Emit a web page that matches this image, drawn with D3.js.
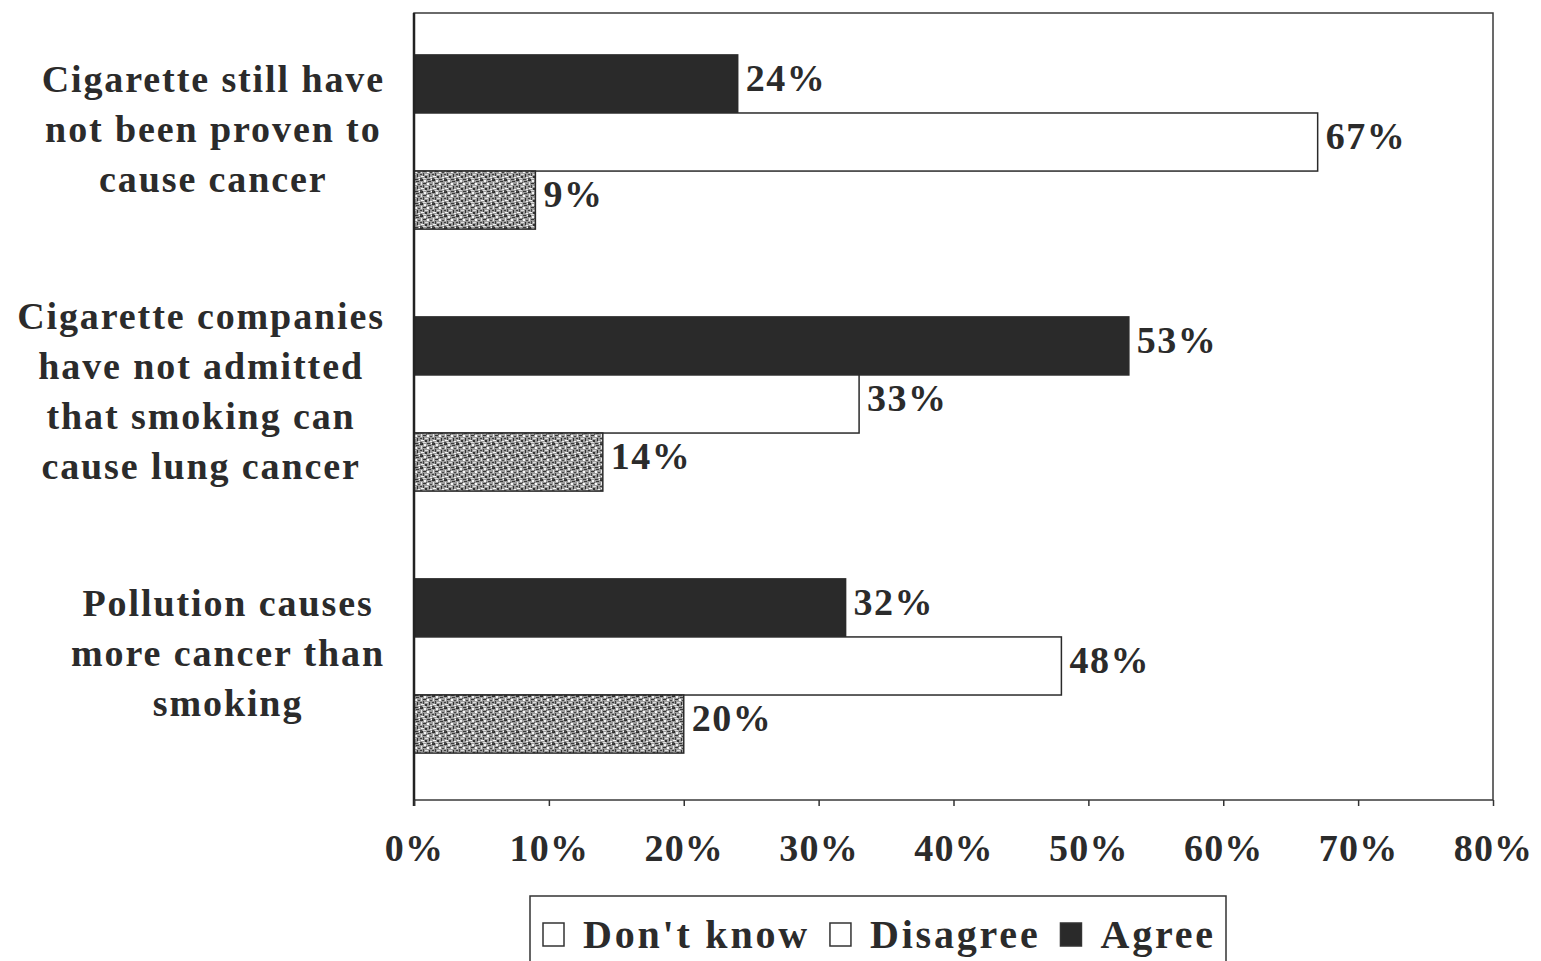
<!DOCTYPE html>
<html lang="en">
<head>
    <meta charset="UTF-8">
    <title>Smoking beliefs</title>
    <script src="https://d3js.org/d3.v7.min.js"></script>
    <style>
        body {
            margin: 0;
            padding: 0;
            background: #ffffff;
        }
        svg {
            display: block;
            font-family: 'Liberation Serif', 'DejaVu Serif', serif;
            font-weight: bold;
        }
        .cat-label {
            font-size: 38px;
            fill: #2b2b2b;
            text-anchor: middle;
            letter-spacing: 1.9px;
        }
        .value-label {
            font-size: 38px;
            fill: #2b2b2b;
            letter-spacing: 1.5px;
        }
        .tick text {
            font-size: 38px;
            fill: #2b2b2b;
            font-family: 'Liberation Serif', serif;
            font-weight: bold;
            letter-spacing: 1.2px;
        }
        .legend-text {
            font-size: 40px;
            fill: #2b2b2b;
            letter-spacing: 2.8px;
        }
    </style>
</head>
<body>
    <svg width="1541" height="961"></svg>

    <script>
        // categories (top to bottom), each split over lines
        const categories = [
            ["Cigarette still have", "not been proven to", "cause cancer"],
            ["Cigarette companies", "have not admitted", "that smoking can", "cause lung cancer"],
            ["Pollution causes", "more cancer than", "smoking"]
        ];
        const series = ["Agree", "Disagree", "Don't know"];
        const agree = [24, 53, 32];
        const disagree = [67, 33, 48];
        const dontKnow = [9, 14, 20];
        const tickValues = [0, 10, 20, 30, 40, 50, 60, 70, 80];
        const legendItems = ["Don't know", "Disagree", "Agree"];

        const svg = d3.select("svg");
        const plotL = 414, plotR = 1493, plotT = 13, plotB = 800;

        const catKeys = categories.map(function(c, i) { return "c" + i; });
        const x = d3.scaleLinear().domain([0, 80]).range([plotL, plotR]);
        const y0 = d3.scaleBand().domain(catKeys).range([plotT, 795])
            .paddingInner(0.335).paddingOuter(0.16);
        const y1 = d3.scaleBand().domain(series).range([0, y0.bandwidth()]);

        const fills = {
            "Agree": "#2a2a2a",
            "Disagree": "#ffffff",
            "Don't know": "url(#stipple)"
        };

        // mottled texture for the "Don't know" bars
        const defs = svg.append("defs");
        const pat = defs.append("pattern")
            .attr("id", "stipple")
            .attr("patternUnits", "userSpaceOnUse")
            .attr("width", 12)
            .attr("height", 12);
        pat.append("rect").attr("width", 12).attr("height", 12).attr("fill", "#9c9c9c");
        const specks = [
            [0,0,3,1,"#2e2e2e"],[4,0,2,2,"#f2f2f2"],[8,1,3,1,"#3a3a3a"],[1,2,1,3,"#e8e8e8"],
            [3,3,3,1,"#333"],[7,3,2,2,"#fafafa"],[10,4,2,1,"#444"],[0,6,2,1,"#3c3c3c"],
            [3,5,1,3,"#444"],[5,6,3,1,"#e0e0e0"],[9,6,1,3,"#2f2f2f"],[1,8,3,1,"#f5f5f5"],
            [5,8,2,2,"#333"],[10,9,2,1,"#eee"],[0,10,2,2,"#484848"],[3,10,3,1,"#ddd"],
            [7,11,3,1,"#393939"],[11,11,1,1,"#fff"],[6,2,1,1,"#555"],[2,11,1,1,"#2a2a2a"]
        ];
        specks.forEach(function(s) {
            pat.append("rect").attr("x", s[0]).attr("y", s[1])
                .attr("width", s[2]).attr("height", s[3]).attr("fill", s[4]);
        });

        const rows = [];
        catKeys.forEach(function(k, i) {
            rows.push({ cat: k, s: "Agree", v: agree[i] });
            rows.push({ cat: k, s: "Disagree", v: disagree[i] });
            rows.push({ cat: k, s: "Don't know", v: dontKnow[i] });
        });

        // bars
        svg.selectAll("rect.bar")
            .data(rows)
            .enter()
            .append("rect")
            .attr("class", "bar")
            .attr("x", x(0))
            .attr("y", function(d) { return y0(d.cat) + y1(d.s); })
            .attr("width", function(d) { return x(d.v) - x(0); })
            .attr("height", y1.bandwidth())
            .attr("fill", function(d) { return fills[d.s]; })
            .attr("stroke", "#2a2a2a")
            .attr("stroke-width", 1.5);

        svg.selectAll("text.value-label")
            .data(rows)
            .enter()
            .append("text")
            .attr("class", "value-label")
            .attr("x", function(d) { return x(d.v) + 8; })
            .attr("y", function(d) { return y0(d.cat) + y1(d.s) + y1.bandwidth() / 2 - 6; })
            .attr("dy", "0.35em")
            .text(function(d) { return d.v + "%"; });

        // frame
        svg.append("rect")
            .attr("x", plotL)
            .attr("y", plotT)
            .attr("width", plotR - plotL)
            .attr("height", plotB - plotT)
            .attr("fill", "none")
            .attr("stroke", "#3a3a3a")
            .attr("stroke-width", 1.5);
        svg.append("line")
            .attr("x1", plotL).attr("x2", plotL)
            .attr("y1", plotT).attr("y2", plotB + 6)
            .attr("stroke", "#222").attr("stroke-width", 2.5);

        // x axis
        const xAxis = svg.append("g")
            .attr("transform", "translate(0," + plotB + ")")
            .call(d3.axisBottom(x)
                .tickValues(tickValues)
                .tickFormat(function(d) { return d + "%"; })
                .tickSize(6)
                .tickPadding(28));
        xAxis.select(".domain").remove();
        xAxis.selectAll(".tick line").attr("stroke", "#333").attr("stroke-width", 1.5);

        // category labels: block right-aligned near the axis, lines centred in the block
        const labelRight = plotL - 29;
        categories.forEach(function(lines, i) {
            const cy = y0(catKeys[i]) + y0.bandwidth() / 2 - 13;
            const lh = 50;
            const startY = cy - (lines.length - 1) * lh / 2;
            const label = svg.append("text").attr("class", "cat-label");
            const spans = label.selectAll("tspan")
                .data(lines)
                .enter()
                .append("tspan")
                .attr("y", function(d, j) { return startY + j * lh; })
                .attr("dy", "0.35em")
                .text(function(d) { return d; });
            let maxW = 0;
            spans.each(function() { maxW = Math.max(maxW, this.getComputedTextLength()); });
            spans.attr("x", labelRight - maxW / 2);
        });

        // legend
        const legend = svg.append("g");
        legend.append("path")
            .attr("d", "M530,961 V896 H1226 V961")
            .attr("fill", "none")
            .attr("stroke", "#333")
            .attr("stroke-width", 1.5);

        let lx = 543;
        legendItems.forEach(function(name) {
            legend.append("rect")
                .attr("x", lx)
                .attr("y", 923)
                .attr("width", 21)
                .attr("height", 23)
                .attr("stroke", "#333")
                .attr("stroke-width", 1.5)
                .attr("fill", name === "Agree" ? "#2a2a2a" : "#ffffff");
            const t = legend.append("text")
                .attr("class", "legend-text")
                .attr("x", lx + 40)
                .attr("y", 934)
                .attr("dy", "0.35em")
                .text(name);
            lx += 40 + t.node().getComputedTextLength() + 20;
        });
    </script>
</body>
</html>
